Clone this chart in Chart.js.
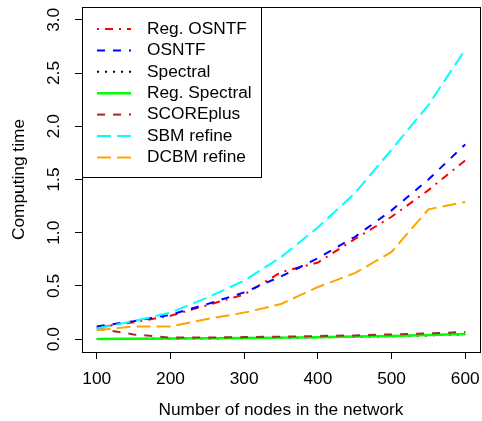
<!DOCTYPE html>
<html>
<head>
<meta charset="utf-8">
<script src="https://cdn.jsdelivr.net/npm/chart.js@4.4.1/dist/chart.umd.min.js"></script>
<style>
  html, body { margin: 0; padding: 0; background: #fff; }
  #wrap { width: 482px; height: 421px; }
</style>
</head>
<body>
<div id="wrap"><canvas id="chart" width="482" height="421"></canvas></div>
<script>
// network sizes (x axis)
const nodes = [100, 150, 200, 250, 300, 350, 400, 450, 500, 550, 600];
const xTicks = [100, 200, 300, 400, 500, 600];
const yTicks = [0, 0.5, 1, 1.5, 2, 2.5, 3];

// computing time per method
const regOsntf     = [0.11, 0.16, 0.22, 0.32, 0.42, 0.63, 0.72, 0.94, 1.15, 1.40, 1.68];
const osntf        = [0.12, 0.17, 0.23, 0.33, 0.44, 0.59, 0.76, 0.96, 1.21, 1.50, 1.83];
const spectral     = [0.002, 0.003, 0.005, 0.007, 0.010, 0.013, 0.017, 0.022, 0.028, 0.036, 0.045];
const regSpectral  = [0.003, 0.004, 0.006, 0.008, 0.011, 0.015, 0.019, 0.025, 0.031, 0.040, 0.050];
const scorePlus    = [0.10, 0.045, 0.015, 0.016, 0.020, 0.024, 0.030, 0.036, 0.045, 0.055, 0.068];
const sbmRefine    = [0.10, 0.17, 0.25, 0.39, 0.55, 0.77, 1.05, 1.37, 1.78, 2.20, 2.72];
const dcbmRefine   = [0.085, 0.12, 0.12, 0.19, 0.25, 0.33, 0.49, 0.62, 0.82, 1.22, 1.29];

const labels = ['Reg. OSNTF', 'OSNTF', 'Spectral', 'Reg. Spectral', 'SCOREplus', 'SBM refine', 'DCBM refine'];

const FONT = "'Liberation Sans', Arial, sans-serif";
const FS = 17.3;

// R-like line types at lwd = 2
const styles = [
    { color: '#ff0000', dash: [2, 6, 8, 6] },  // dotdash
    { color: '#0000ff', dash: [8, 8] },        // dashed
    { color: '#000000', dash: [2, 6] },        // dotted
    { color: '#00ff00', dash: [] },            // solid
    { color: '#a52a2a', dash: [8, 8] },        // dashed
    { color: '#00ffff', dash: [14, 6] },       // longdash
    { color: '#ffa500', dash: [14, 6] }        // longdash
];
const series = [regOsntf, osntf, spectral, regSpectral, scorePlus, sbmRefine, dcbmRefine];

const datasets = series.map((vals, i) => ({
    label: labels[i],
    data: vals.map((v, j) => ({ x: nodes[j], y: v })),
    borderColor: styles[i].color,
    borderDash: styles[i].dash,
    borderWidth: i === 3 ? 2.5 : 2,
    pointRadius: 0,
    tension: 0,
    fill: false,
    order: 10 - i   // later series drawn on top, like R
}));

// frame box + legend drawn in R style
const rBox = {
    id: 'rBox',
    afterDatasetsDraw(chart) {
        const { ctx, chartArea: a } = chart;
        ctx.save();
        ctx.strokeStyle = '#000';
        ctx.lineWidth = 1;
        ctx.strokeRect(a.left + 0.5, a.top + 0.5, a.right - a.left, a.bottom - a.top);

        // legend
        const lx = a.left, ly = a.top, lw = 179, lh = 170;
        ctx.fillStyle = '#fff';
        ctx.fillRect(lx + 0.5, ly + 0.5, lw, lh);
        ctx.strokeRect(lx + 0.5, ly + 0.5, lw, lh);
        ctx.font = FS + 'px ' + FONT;
        ctx.textBaseline = 'middle';
        ctx.textAlign = 'left';
        chart.data.datasets.forEach((ds, i) => {
            const y = ly + 22 + i * 21.4;
            ctx.beginPath();
            ctx.strokeStyle = ds.borderColor;
            ctx.lineWidth = ds.borderWidth;
            ctx.setLineDash(ds.borderDash);
            ctx.moveTo(lx + 15, y);
            ctx.lineTo(lx + 49, y);
            ctx.stroke();
            ctx.setLineDash([]);
            ctx.fillStyle = '#000';
            ctx.fillText(ds.label, lx + 65, y);
        });
        ctx.restore();
    }
};

new Chart(document.getElementById('chart'), {
    type: 'line',
    data: { datasets },
    options: {
        responsive: false,
        animation: false,
        events: [],
        layout: { padding: { top: 7, right: 2, left: 0, bottom: 0 } },
        plugins: { legend: { display: false }, tooltip: { enabled: false } },
        scales: {
            x: {
                type: 'linear',
                min: 80,
                max: 620,
                afterBuildTicks: s => { s.ticks = xTicks.map(v => ({ value: v })); },
                afterFit: s => { s.height = 69; s.paddingLeft = 0; s.paddingRight = 0; },
                grid: { drawOnChartArea: false, tickLength: 7, color: '#000', tickColor: '#000' },
                border: { display: false },
                ticks: { color: '#000', padding: 10, maxRotation: 0, font: { family: FONT, size: FS } },
                title: { display: true, text: 'Number of nodes in the network', color: '#000',
                         font: { family: FONT, size: FS }, padding: { top: 0, bottom: 0 } }
            },
            y: {
                type: 'linear',
                min: -0.12,
                max: 3.12,
                afterBuildTicks: s => { s.ticks = yTicks.map(v => ({ value: v })); },
                afterFit: s => { s.width = 82; s.paddingTop = 0; s.paddingBottom = 0; },
                grid: { drawOnChartArea: false, tickLength: 7, color: '#000', tickColor: '#000' },
                border: { display: false },
                ticks: {
                    color: '#000', padding: 9, minRotation: 90, maxRotation: 90, crossAlign: 'center',
                    font: { family: FONT, size: FS },
                    callback: v => v.toFixed(1)
                },
                title: { display: true, text: 'Computing time', color: '#000',
                         font: { family: FONT, size: FS }, padding: { top: 9, bottom: 0 } }
            }
        }
    },
    plugins: [rBox]
});
</script>
</body>
</html>
